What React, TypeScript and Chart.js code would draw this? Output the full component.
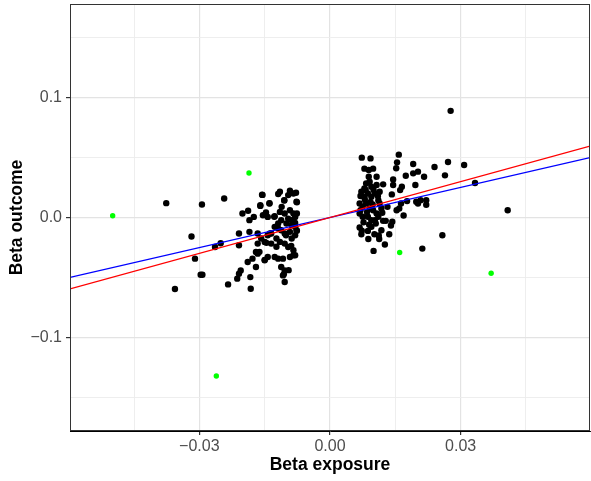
import React, { useEffect, useRef } from "react";
import { Chart, registerables } from "chart.js";

Chart.register(...registerables);

// ---- data ----
const X_RANGE = [-0.0597, 0.0597];
const Y_RANGE = [-0.1784, 0.1784];
const xTickValues = [-0.045, -0.03, -0.015, 0, 0.015, 0.03, 0.045];
const xTickLabels = ["", "\u22120.03", "", "0.00", "", "0.03", ""];
const yTickValues = [-0.15, -0.1, -0.05, 0, 0.05, 0.1, 0.15];
const yTickLabels = ["", "\u22120.1", "", "0.0", "", "0.1", ""];

const xTitle = "Beta exposure";
const yTitle = "Beta outcome";

// regression slopes (lines through origin)
const redSlope = 1.0;
const blueSlope = 0.838;

// outliers (green)
const outlierPoints: [number, number][] = [
  [-0.0499, 0.0014], [-0.0186, 0.0372], [-0.0261, -0.1324], [0.016, -0.0293], [0.037, -0.0466],
];

// negative-exposure SNPs
const leftPoints: [number, number][] = [
  [-0.0376, 0.012], [-0.0294, 0.0109], [-0.0243, 0.0159], [-0.0318, -0.0159], [-0.031, -0.0344],
  [-0.0356, -0.0598], [-0.0297, -0.0478], [-0.0293, -0.0478], [-0.0264, -0.0246], [-0.0251, -0.0215],
  [-0.0234, -0.0559],
  [-0.0156, 0.019], [-0.0119, 0.0196], [-0.0115, 0.0215], [-0.0092, 0.0223], [-0.0084, 0.0201],
  [-0.0078, 0.0207], [-0.0096, 0.0187], [-0.0139, 0.0117], [-0.016, 0.0103], [-0.0105, 0.0145],
  [-0.0077, 0.0131], [-0.0201, 0.0033], [-0.0188, 0.0056], [-0.0185, -0.0022], [-0.0175, 0.0005],
  [-0.0154, 0.0019], [-0.0147, 0.0042], [-0.0143, 0.0005], [-0.0127, 0.0011], [-0.0119, -0.005],
  [-0.0112, -0.0022], [-0.0115, 0.0047], [-0.0104, 0.0033], [-0.0092, 0.0061], [-0.0084, 0.0033],
  [-0.008, 0.0005], [-0.0088, -0.0022], [-0.0096, -0.0009], [-0.01, -0.005], [-0.0088, -0.0064],
  [-0.008, -0.0078], [-0.0077, -0.0106], [-0.0092, -0.012], [-0.0104, -0.0134], [-0.0112, -0.0106],
  [-0.0119, -0.0092], [-0.0127, -0.0078], [-0.0135, -0.0134], [-0.0123, -0.0176], [-0.0115, -0.0204],
  [-0.0104, -0.0218], [-0.0088, -0.0176], [-0.008, -0.0148], [-0.0096, -0.0246], [-0.0084, -0.0274],
  [-0.008, -0.0316], [-0.0092, -0.033], [-0.0108, -0.0344], [-0.0119, -0.0344], [-0.0127, -0.033],
  [-0.0112, -0.0414], [-0.0104, -0.0442], [-0.0108, -0.0484], [-0.0135, -0.0218], [-0.015, -0.0204],
  [-0.0158, -0.0176], [-0.0166, -0.0218], [-0.0143, -0.0148], [-0.015, -0.0358], [-0.017, -0.0288],
  [-0.0166, -0.0302], [-0.0178, -0.0344], [-0.0189, -0.0372], [-0.0205, -0.0442], [-0.0209, -0.047],
  [-0.0213, -0.0511], [-0.0183, -0.0498], [-0.017, -0.0414], [-0.0182, -0.0595], [-0.0104, -0.0539],
  [-0.0143, -0.033], [-0.0166, -0.0134], [-0.0185, -0.012], [-0.0209, -0.0134], [-0.0209, -0.0232],
  [-0.0076, 0.0128], [-0.0076, 0.0033], [-0.008, -0.0045], [-0.0076, -0.0111], [-0.0084, -0.0315],
  [-0.0095, -0.044], [-0.0106, -0.0474], [-0.0089, -0.0237], [-0.0101, -0.0148], [-0.0111, 0.0089],
  [-0.0105, 0.0142], [-0.0128, 0.0006], [-0.0138, -0.0134], [-0.0146, -0.0212], [-0.0123, -0.0245],
  [-0.015, -0.0354], [-0.0162, -0.0287], [-0.0155, 0.0189], [-0.016, 0.0097], [-0.0139, 0.012],
];

// positive-exposure SNPs
const rightPoints: [number, number][] = [
  [0.0073, 0.05], [0.0093, 0.0494], [0.0079, 0.0408], [0.0089, 0.0397], [0.0099, 0.0408],
  [0.0089, 0.0341], [0.0107, 0.0341], [0.0083, 0.0285], [0.0091, 0.0299], [0.0079, 0.0243],
  [0.0095, 0.0257], [0.0107, 0.0271], [0.0114, 0.0215], [0.0122, 0.0277], [0.0072, 0.0215],
  [0.0079, 0.0173], [0.0087, 0.0201], [0.0095, 0.0173], [0.0103, 0.0201], [0.0111, 0.0145],
  [0.0114, 0.0117], [0.0118, 0.0075], [0.0068, 0.0117], [0.0075, 0.0089], [0.0083, 0.0117],
  [0.0091, 0.0075], [0.0099, 0.0061], [0.0107, 0.0034], [0.0068, 0.0034], [0.0075, 0.0006],
  [0.0087, 0.0006], [0.0095, -0.0022], [0.0103, -0.0022], [0.0111, 0.0006], [0.0068, -0.0084],
  [0.0072, -0.014], [0.0087, -0.0112], [0.0095, -0.0078], [0.0112, -0.0151], [0.0118, -0.0106],
  [0.0122, -0.0028], [0.0128, -0.0028], [0.01, -0.0279], [0.0126, -0.0226], [0.014, -0.0067],
  [0.0143, -0.0036], [0.0132, 0.0089], [0.0145, 0.0318], [0.0145, 0.0271], [0.0142, 0.0193],
  [0.0153, 0.0061], [0.0159, 0.0075], [0.0163, 0.0117], [0.0161, 0.0229], [0.0165, 0.0257],
  [0.0169, 0.0017], [0.0158, 0.0525], [0.0154, 0.0461], [0.0152, 0.0411], [0.0174, 0.0349],
  [0.0177, 0.0137], [0.0191, 0.0447], [0.0191, 0.0369], [0.0196, 0.0271], [0.0202, 0.0383],
  [0.0216, 0.0341], [0.0198, 0.0131], [0.0202, 0.0117], [0.0208, 0.0145], [0.0221, 0.0145],
  [0.0221, 0.0106], [0.0212, -0.026], [0.024, 0.0422], [0.0264, 0.0352], [0.0271, 0.0464],
  [0.0258, -0.0148], [0.0277, 0.0891], [0.0308, 0.0439], [0.0333, 0.0288], [0.0408, 0.0061],
  [0.008, 0.015], [0.007, 0.018], [0.0098, 0.011], [0.0085, 0.0045], [0.0077, -0.004],
  [0.009, -0.006], [0.0105, -0.005], [0.0082, 0.023], [0.01, 0.023], [0.007, 0.006],
  [0.0093, 0.013], [0.011, 0.018], [0.0073, -0.011], [0.0102, -0.014], [0.0088, -0.018],
  [0.012, 0.004], [0.0113, -0.018], [0.0136, -0.014],
];

const toXY = (pts: [number, number][]) => pts.map(([x, y]) => ({ x, y }));
const lineThroughOrigin = (slope: number) => X_RANGE.map((x) => ({ x, y: slope * x }));

const labelFor = (values: number[], labels: string[], v: number) => {
  const i = values.findIndex((t) => Math.abs(t - v) < 1e-9);
  return i >= 0 ? labels[i] : "";
};

const panelBorder = {
  id: "panelBorder",
  afterDraw(chart: any) {
    const { ctx, chartArea } = chart;
    ctx.save();
    ctx.strokeStyle = "#333333";
    ctx.lineWidth = 1;
    ctx.strokeRect(chartArea.left + 0.5, chartArea.top + 0.5, chartArea.right - chartArea.left - 1, chartArea.bottom - chartArea.top - 1);
    ctx.restore();
  },
};

export default function App() {
  const ref = useRef<HTMLCanvasElement | null>(null);

  useEffect(() => {
    if (!ref.current) return;
    Chart.defaults.font.family = "'Liberation Sans', Arial, Helvetica, sans-serif";
    const isMajor = (v: number, step: number) => Math.abs(v / step - Math.round(v / step)) < 1e-6;
    const chart = new Chart(ref.current, {
      type: "scatter",
      data: {
        datasets: [
          {
            label: "red",
            data: lineThroughOrigin(redSlope),
            showLine: true,
            borderColor: "#ff0000",
            borderWidth: 1.4,
            pointRadius: 0,
            order: 0,
          } as any,
          {
            label: "blue",
            data: lineThroughOrigin(blueSlope),
            showLine: true,
            borderColor: "#0000ff",
            borderWidth: 1.4,
            pointRadius: 0,
            order: 1,
          } as any,
          {
            label: "outliers",
            data: toXY(outlierPoints),
            backgroundColor: "#00ff00",
            borderWidth: 0,
            pointRadius: 2.7,
            order: 2,
          },
          {
            label: "snps",
            data: toXY([...leftPoints, ...rightPoints]),
            backgroundColor: "#000000",
            borderWidth: 0,
            pointRadius: 3.2,
            order: 3,
          },
        ],
      },
      options: {
        animation: false,
        responsive: false,
        devicePixelRatio: 1,
        layout: { autoPadding: false, padding: { left: 0, top: 4, right: 1, bottom: 0 } },
        plugins: { legend: { display: false }, tooltip: { enabled: false } },
        scales: {
          x: {
            type: "linear",
            min: X_RANGE[0],
            max: X_RANGE[1],
            afterBuildTicks: (axis: any) => {
              axis.ticks = xTickValues.map((value) => ({ value }));
            },
            afterFit: (axis: any) => {
              axis.height = 50;
              axis.paddingLeft = 0;
              axis.paddingRight = 0;
            },
            grid: {
              color: (c: any) => (isMajor(c.tick?.value ?? 0, 0.03) ? "#e3e3e3" : "#ececec"),
              lineWidth: (c: any) => (isMajor(c.tick?.value ?? 0, 0.03) ? 1.2 : 0.9),
              tickColor: (c: any) => (isMajor(c.tick?.value ?? 0, 0.03) ? "#333333" : "rgba(0,0,0,0)"),
              tickLength: 4,
              drawTicks: true,
            },
            border: { color: "#000000", width: 1 },
            ticks: {
              autoSkip: false,
              maxRotation: 0,
              padding: 2,
              color: "#4d4d4d",
              font: { size: 16 },
              callback: (v: any) => labelFor(xTickValues, xTickLabels, Number(v)),
            },
            title: {
              display: true,
              text: xTitle,
              color: "#000000",
              font: { size: 17.5, weight: "bold" },
              padding: { top: 0, bottom: 5 },
            },
          },
          y: {
            type: "linear",
            min: Y_RANGE[0],
            max: Y_RANGE[1],
            afterBuildTicks: (axis: any) => {
              axis.ticks = yTickValues.map((value) => ({ value }));
            },
            afterFit: (axis: any) => {
              axis.width = 70;
              axis.paddingTop = 0;
              axis.paddingBottom = 0;
            },
            grid: {
              color: (c: any) => (isMajor(c.tick?.value ?? 0, 0.1) ? "#e3e3e3" : "#ececec"),
              lineWidth: (c: any) => (isMajor(c.tick?.value ?? 0, 0.1) ? 1.2 : 0.9),
              tickColor: (c: any) => (isMajor(c.tick?.value ?? 0, 0.1) ? "#333333" : "rgba(0,0,0,0)"),
              tickLength: 4,
              drawTicks: true,
            },
            border: { color: "#000000", width: 1 },
            ticks: {
              autoSkip: false,
              padding: 4,
              color: "#4d4d4d",
              font: { size: 16 },
              callback: (v: any) => labelFor(yTickValues, yTickLabels, Number(v)),
            },
            title: {
              display: true,
              text: yTitle,
              color: "#000000",
              font: { size: 17.5, weight: "bold" },
              padding: { top: 7, bottom: 0 },
            },
          },
        },
      },
      plugins: [panelBorder],
    });
    return () => chart.destroy();
  }, []);

  return (
    <div style={{ position: "absolute", left: 0, top: 0, width: 591, height: 481, background: "#ffffff" }}>
      <canvas ref={ref} width={591} height={481} style={{ width: 591, height: 481, display: "block" }} />
    </div>
  );
}
